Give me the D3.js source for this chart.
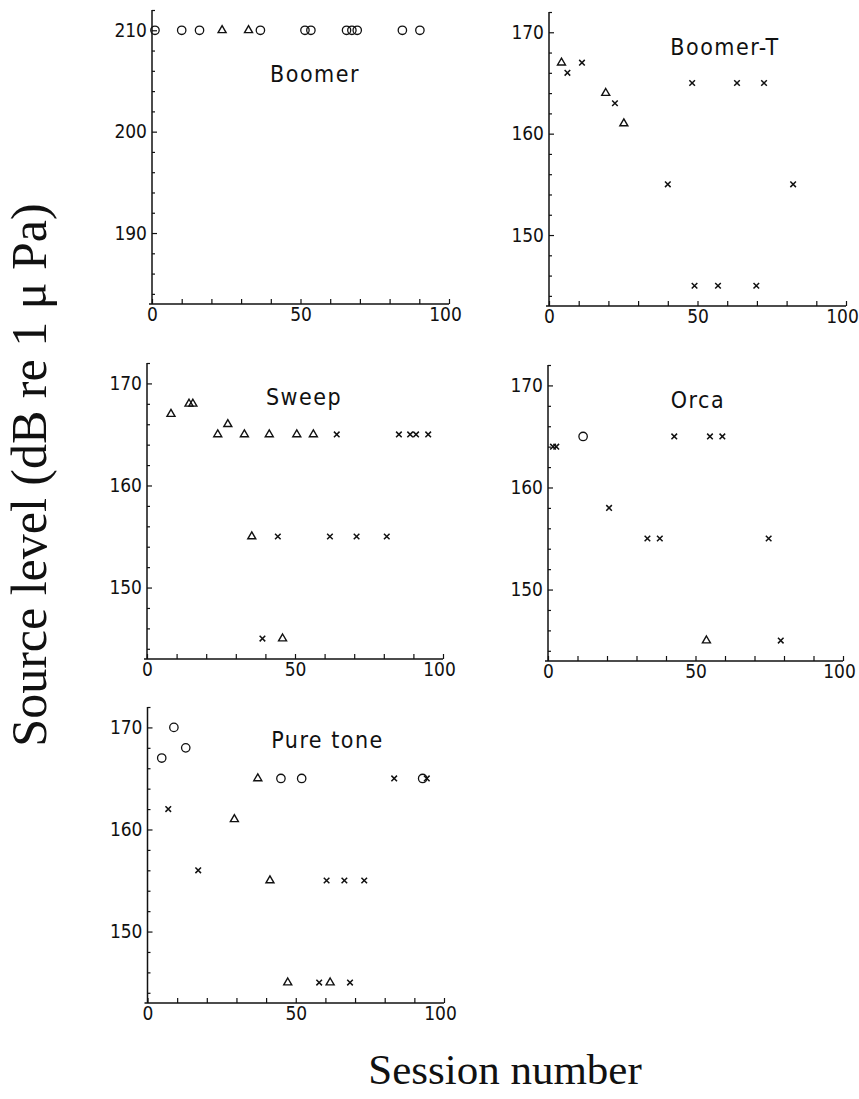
<!DOCTYPE html>
<html>
<head>
<meta charset="utf-8">
<script src="https://cdn.jsdelivr.net/npm/d3@7"></script>
<style>
  html, body { margin: 0; padding: 0; background: #fff; }
  svg { display: block; }
  .tick text { font-family: "Liberation Sans Narrow", "DejaVu Sans Condensed", "Liberation Sans", sans-serif; font-size: 19px; fill: #111; }
  .title { font-family: "Liberation Sans Narrow", "DejaVu Sans Condensed", "Liberation Sans", sans-serif; font-size: 23px; fill: #111; letter-spacing: 1.5px; }
  .big { font-family: "Liberation Serif", "DejaVu Serif", serif; fill: #111; }
</style>
</head>
<body>
<svg id="chart" width="859" height="1099"></svg>
<script>
// ---------------- DATA ----------------
const sessionTicks = [0, 10, 20, 30, 40, 50, 60, 70, 80, 90, 100];
const sessionLabels = [0, 50, 100];
const panelNames = ["Boomer", "Boomer-T", "Sweep", "Orca", "Pure tone"];
const levelDomains = [[183, 212], [143, 172], [143, 172], [143, 172], [143, 172]];
const levelLabels = [[190, 200, 210], [150, 160, 170], [150, 160, 170], [150, 160, 170], [150, 160, 170]];

// [session number, source level]
const boomerCircles = [[1, 210], [10, 210], [16, 210], [36.5, 210], [51.5, 210], [53.5, 210], [65.5, 210], [67.3, 210], [69.1, 210], [84.3, 210], [90.2, 210]];
const boomerTriangles = [[23.6, 210], [32.5, 210]];
const boomerCrosses = [];

const boomerTCircles = [];
const boomerTTriangles = [[4.2, 167], [19.1, 164], [25.2, 161]];
const boomerTCrosses = [[6.2, 166], [11.1, 167], [22.2, 163], [40, 155], [48.2, 165], [49, 145], [56.9, 145], [63.3, 165], [69.8, 145], [72.4, 165], [82.2, 155]];

const sweepCircles = [];
const sweepTriangles = [[8.1, 167], [14.2, 168], [15.5, 168], [23.9, 165], [27.3, 166], [32.9, 165], [41.3, 165], [50.6, 165], [56.2, 165], [35.4, 155], [45.8, 145]];
const sweepCrosses = [[64.1, 165], [85.1, 165], [88.9, 165], [90.9, 165], [95, 165], [44.2, 155], [61.8, 155], [70.8, 155], [81, 155], [39, 145]];

const orcaCircles = [[11.9, 165]];
const orcaTriangles = [[53.7, 145]];
const orcaCrosses = [[1.7, 164], [2.8, 164], [20.7, 158], [33.7, 155], [37.9, 155], [42.8, 165], [54.9, 165], [59.1, 165], [74.8, 155], [78.9, 145]];

const pureCircles = [[4.8, 167], [8.9, 170], [12.9, 168], [45, 165], [52, 165], [92.8, 165]];
const pureTriangles = [[29.3, 161], [37.2, 165], [41.3, 155], [47.3, 145], [61.6, 145]];
const pureCrosses = [[7, 162], [17.1, 156], [83.2, 165], [94.2, 165], [60.4, 155], [66.4, 155], [73.1, 155], [57.9, 145], [68.3, 145]];

const circleSets = [boomerCircles, boomerTCircles, sweepCircles, orcaCircles, pureCircles];
const triangleSets = [boomerTriangles, boomerTTriangles, sweepTriangles, orcaTriangles, pureTriangles];
const crossSets = [boomerCrosses, boomerTCrosses, sweepCrosses, orcaCrosses, pureCrosses];

// ---------------- LAYOUT ----------------
const frames = [
  { L: 152, R: 449, T: 10,  B: 304,  tx: 163, ty: 72 },
  { L: 549, R: 846, T: 12,  B: 306,  tx: 176, ty: 43 },
  { L: 147, R: 443, T: 363, B: 659,  tx: 157, ty: 42 },
  { L: 548, R: 843, T: 365, B: 661,  tx: 150, ty: 43 },
  { L: 147.5, R: 444, T: 707, B: 1003, tx: 180, ty: 41 }
];
const INK = "#111";

const svg = d3.select("#chart");

frames.forEach((f, i) => {
  const x = d3.scaleLinear().domain([0, 100]).range([f.L, f.R]);
  const y = d3.scaleLinear().domain(levelDomains[i]).range([f.B, f.T]);
  const g = svg.append("g");

  const [lo, hi] = levelDomains[i];
  const minorY = d3.range(Math.ceil(lo / 2) * 2, hi + 0.001, 2).filter(v => v % 10 !== 0);

  // y minor ticks
  g.append("g").attr("transform", `translate(${f.L},0)`)
    .call(d3.axisLeft(y).tickValues(minorY).tickSize(-3).tickSizeOuter(0).tickFormat(""))
    .call(s => s.select(".domain").remove());
  // y major ticks + labels
  const ya = g.append("g").attr("transform", `translate(${f.L},0)`)
    .call(d3.axisLeft(y).tickValues(levelLabels[i]).tickSize(-5).tickSizeOuter(0).tickPadding(5).tickFormat(d3.format("d")));
  ya.select(".domain").remove();
  // y axis line
  g.append("line").attr("x1", f.L).attr("x2", f.L).attr("y1", y(hi)).attr("y2", y(lo))
    .attr("stroke", INK).attr("stroke-width", 1.5);

  // x ticks
  const xa = g.append("g").attr("transform", `translate(0,${f.B})`)
    .call(d3.axisBottom(x).tickValues(sessionTicks).tickSize(-5).tickSizeOuter(0).tickPadding(3)
      .tickFormat(d => sessionLabels.includes(d) ? d : ""));
  xa.select(".domain").remove();
  xa.selectAll(".tick text").filter(d => d === 100).attr("dx", "-4");
  g.append("line").attr("x1", x(0) - 3).attr("x2", x(100)).attr("y1", f.B).attr("y2", f.B)
    .attr("stroke", INK).attr("stroke-width", 1.5);

  g.selectAll(".tick line").attr("stroke", INK).attr("stroke-width", 1.2);

  // title
  g.append("text").attr("class", "title")
    .attr("x", f.L + f.tx).attr("y", f.T + f.ty)
    .attr("text-anchor", "middle").text(panelNames[i]);

  // markers
  g.selectAll("circle.pt").data(circleSets[i]).join("circle")
    .attr("class", "pt")
    .attr("cx", d => x(d[0])).attr("cy", d => y(d[1])).attr("r", 4.2)
    .attr("fill", "none").attr("stroke", INK).attr("stroke-width", 1.3);

  const triPath = "M0,-4.6L4,2.3L-4,2.3Z";
  g.selectAll("path.tri").data(triangleSets[i]).join("path")
    .attr("class", "tri")
    .attr("transform", d => `translate(${x(d[0])},${y(d[1])})`)
    .attr("d", triPath)
    .attr("fill", "none").attr("stroke", INK).attr("stroke-width", 1.4).attr("stroke-linejoin", "miter");

  const crossPath = "M-2.8,-2.8L2.8,2.8M-2.8,2.8L2.8,-2.8";
  g.selectAll("path.crs").data(crossSets[i]).join("path")
    .attr("class", "crs")
    .attr("transform", d => `translate(${x(d[0])},${y(d[1])})`)
    .attr("d", crossPath)
    .attr("fill", "none").attr("stroke", INK).attr("stroke-width", 1.5);
});

// axis titles
svg.append("text").attr("class", "big")
  .attr("transform", "translate(46,475) rotate(-90)")
  .attr("text-anchor", "middle").style("font-size", "50px")
  .text("Source level (dB re 1 \u03BC Pa)");

svg.append("text").attr("class", "big")
  .attr("x", 505).attr("y", 1084)
  .attr("text-anchor", "middle").style("font-size", "43px")
  .text("Session number");
</script>
</body>
</html>
